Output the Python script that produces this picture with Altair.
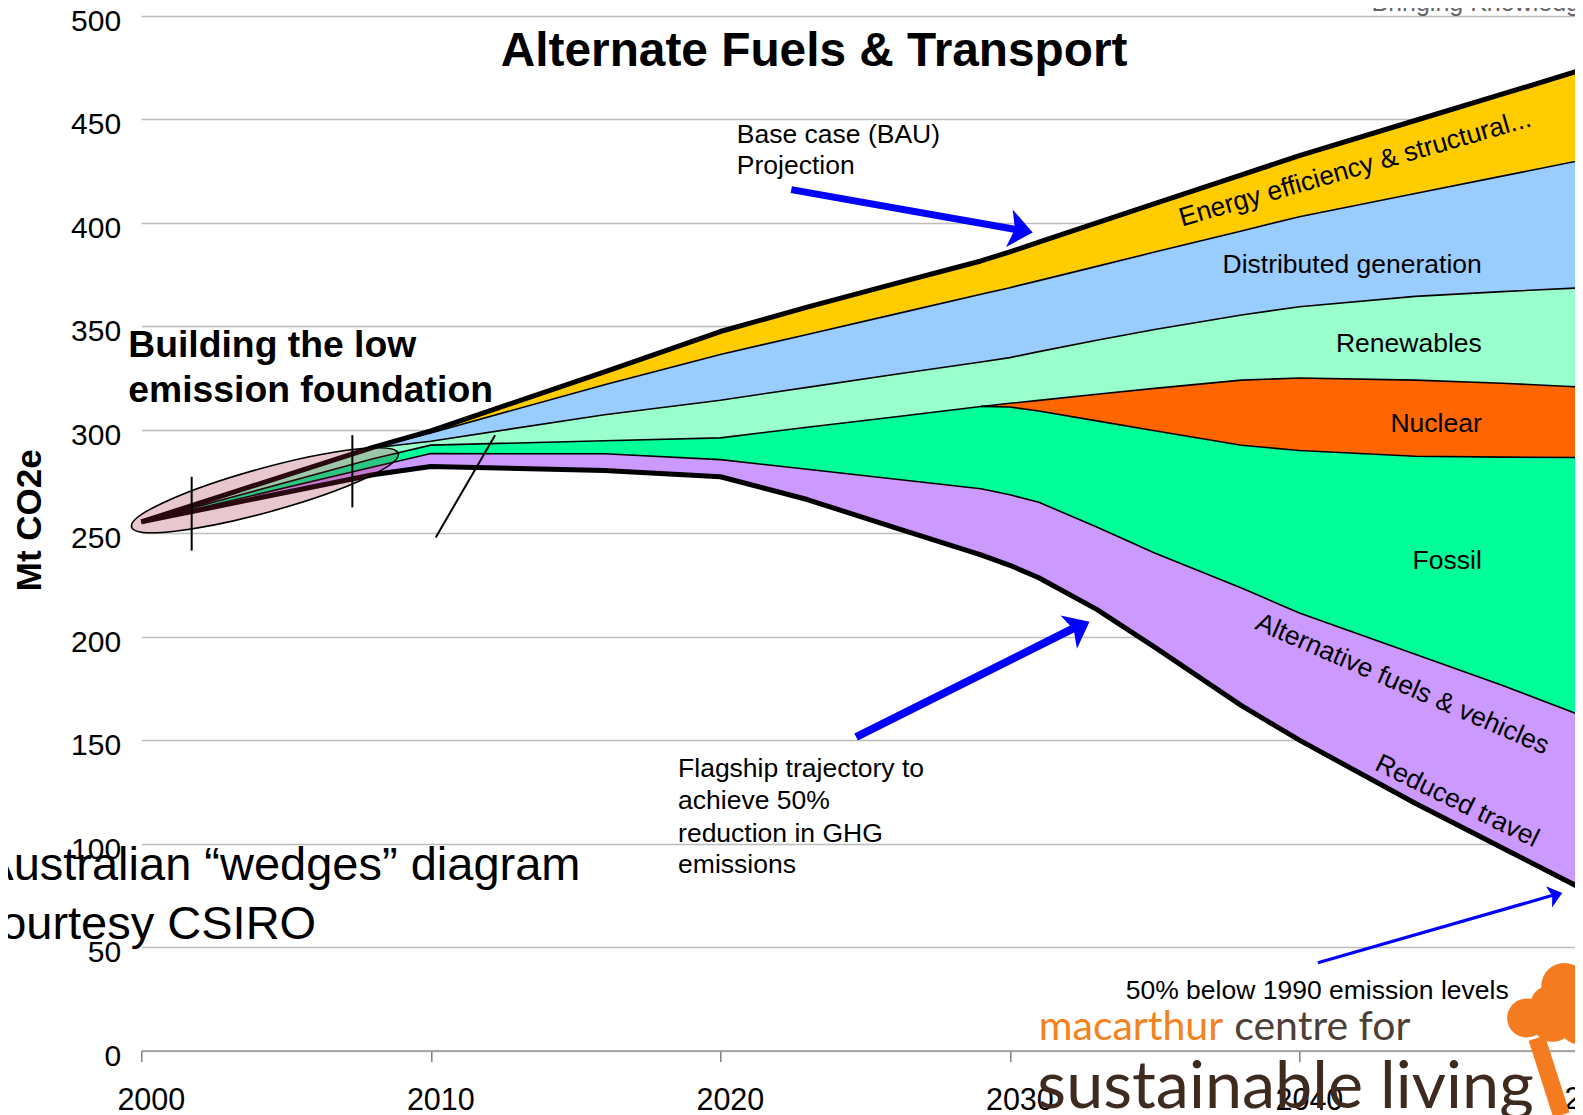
import altair as alt
import pandas as pd

# ---------------- data ----------------
years = [2000, 2008, 2010, 2016, 2020, 2023, 2026, 2029, 2030, 2031, 2033, 2035, 2038, 2040, 2044, 2047, 2050]
bau      = [255.5, 291.5, 299.5, 328.0, 347.5, 359.3, 370.5, 381.6, 386.0, 390.7, 400.0, 409.3, 423.2, 432.5, 449.5, 462.2, 475.0]
ee_low   = [255.5, 291.5, 298.5, 321.8, 336.4, 346.1, 355.8, 365.5, 368.7, 372.1, 379.0, 385.9, 396.1, 403.0, 414.2, 422.6, 431.0]
dg_low   = [255.5, 291.2, 294.5, 307.3, 314.3, 320.5, 326.7, 332.8, 334.9, 337.8, 343.3, 348.5, 355.5, 359.5, 364.5, 366.8, 368.8]
ren_low  = [255.5, 286.0, 292.6, 294.7, 296.1, 301.2, 306.2, 311.3, 312.8, 314.2, 317.2, 320.0, 324.0, 325.0, 324.0, 322.5, 320.5]
nuc_low  = [255.5, 286.0, 292.6, 294.7, 296.1, 301.2, 306.2, 311.3, 311.0, 309.1, 304.3, 299.5, 292.5, 290.0, 287.2, 286.8, 286.6]
fos_low  = [255.5, 282.0, 288.5, 288.4, 285.6, 280.9, 276.2, 271.5, 268.6, 265.0, 253.0, 240.5, 223.5, 211.5, 191.5, 176.5, 160.5]
flagship = [255.5, 278.3, 282.3, 280.3, 277.3, 266.3, 252.8, 239.5, 234.5, 228.5, 213.2, 195.0, 166.7, 150.0, 119.5, 98.0, 76.5]

band_names = ["Energy efficiency & structural", "Distributed generation", "Renewables",
              "Nuclear", "Fossil", "Alternative fuels & vehicles / Reduced travel"]
band_colors = ["#FFCC00", "#99CCFF", "#99FFCC", "#FF6600", "#00FF99", "#CC99FF"]
band_upper = [bau, ee_low, dg_low, ren_low, nuc_low, fos_low]
band_lower = [ee_low, dg_low, ren_low, nuc_low, fos_low, flagship]

y_ticks = [0, 50, 100, 150, 200, 250, 300, 350, 400, 450, 500]
x_ticks = [2000, 2010, 2020, 2030, 2040]

FONT = "Liberation Sans"

# ---------------- scales / axes ----------------
x_scale = alt.Scale(domain=[2000, 2049.52], nice=False, zero=False)
y_scale = alt.Scale(domain=[0, 500], nice=False, zero=False)
x_axis = alt.Axis(values=x_ticks, format="d", grid=False, domain=True, domainColor="#a6a6a6",
                  domainWidth=2, ticks=True, tickColor="#7f7f7f", tickWidth=1.5, tickSize=11,
                  labelFontSize=30.5, labelFont=FONT, labelColor="black", labelPadding=23.6,
                  labelOffset=9.5, labelFlush=False, labelOverlap=False, title=None)
y_axis = alt.Axis(values=y_ticks, grid=True, gridColor="#bdbdbd", gridWidth=1.5, domain=False,
                  ticks=False, tickSize=0, labelFontSize=30, labelFont=FONT, labelColor="black",
                  labelPadding=20.7, labelOffset=5.5, labelBaseline="middle", labelFlush=False,
                  labelOverlap=False, title=None)


def X(field="year"):
    return alt.X(f"{field}:Q", scale=x_scale, axis=x_axis)


def Y(field="v"):
    return alt.Y(f"{field}:Q", scale=y_scale, axis=y_axis, stack=None)


# ---------------- wedges ----------------
band_rows = []
for name, up, lo in zip(band_names, band_upper, band_lower):
    for yr, a, b in zip(years, up, lo):
        band_rows.append({"year": yr, "band": name, "v": a, "v2": b})
areas = alt.Chart(pd.DataFrame(band_rows)).mark_area(opacity=1, interpolate="linear").encode(
    x=X(), y=Y(), y2="v2:Q",
    color=alt.Color("band:N", scale=alt.Scale(domain=band_names, range=band_colors), legend=None),
)

thin_rows = []
for name, series in [("ee", ee_low), ("dg", dg_low), ("ren", ren_low), ("nuc", nuc_low), ("fos", fos_low)]:
    for yr, val in zip(years, series):
        if name == "nuc" and yr < 2029:
            continue
        thin_rows.append({"year": yr, "boundary": name, "v": val})
thin_lines = alt.Chart(pd.DataFrame(thin_rows)).mark_line(color="black", strokeWidth=1.6).encode(
    x=X(), y=Y(), detail="boundary:N")

thick_rows = []
for name, series in [("bau", bau), ("flagship", flagship)]:
    for yr, val in zip(years, series):
        thick_rows.append({"year": yr, "boundary": name, "v": val})
thick_lines = alt.Chart(pd.DataFrame(thick_rows)).mark_line(
    color="black", strokeWidth=5, strokeJoin="round").encode(x=X(), y=Y(), detail="boundary:N")

# ---------------- foundation ellipse + markers ----------------
ELLIPSE = ("M-1,0 C-1,-0.0878 -0.5523,-0.159 0,-0.159 C0.5523,-0.159 1,-0.0878 1,0 "
           "C1,0.0878 0.5523,0.159 0,0.159 C-0.5523,0.159 -1,0.0878 -1,0 Z")
ellipse = alt.Chart(pd.DataFrame({"year": [2004.27], "v": [270.8]})).mark_point(
    shape=ELLIPSE, filled=True, fill="#a3203a", fillOpacity=0.25, stroke="black",
    strokeWidth=1.6, strokeOpacity=1, opacity=1, size=76507, angle=344.6).encode(x=X(), y=Y())

marker_rules = pd.DataFrame({"year": [2001.74, 2007.29, 2010.17], "v": [241.6, 262.5, 248.0],
                             "year2": [2001.74, 2007.29, 2012.22], "v2": [277.3, 297.4, 297.4]})
markers = alt.Chart(marker_rules).mark_rule(color="black", strokeWidth=2).encode(
    x=X(), y=Y(), x2="year2:Q", y2="v2:Q")

# ---------------- arrows ----------------
HEAD = "M0,0 L-1.25,-1 L-0.95,0 L-1.25,1 Z"
arrows = pd.DataFrame({"year": [2022.45, 2024.69, 2040.64], "v": [416.1, 151.5, 42.4],
                       "year2": [2030.5, 2032.45, 2048.9], "v2": [396.1, 205.8, 75.6],
                       "tipx": [2030.79, 2032.75, 2049.08], "tipv": [395.4, 207.2, 76.1],
                       "w": [7, 8, 3.2], "head": [1444, 1369, 484], "angle": [10.05, 333.7, 344.1]})
shafts = alt.Chart(arrows).mark_rule(color="#0000FF").encode(
    x=X(), y=Y(), x2="year2:Q", y2="v2:Q", strokeWidth=alt.StrokeWidth("w:Q", scale=None))
heads = alt.Chart(arrows).mark_point(shape=HEAD, filled=True, color="#0000FF", opacity=1).encode(
    x=X("tipx"), y=Y("tipv"), size=alt.Size("head:Q", scale=None),
    angle=alt.Angle("angle:Q", scale=None))


# ---------------- text ----------------
def text_layer(rows, **mark):
    df = pd.DataFrame(rows)
    enc = dict(x=X(), y=Y(), text="text:N")
    if "angle" in df.columns:
        enc["angle"] = alt.Angle("angle:Q", scale=None)
    return alt.Chart(df).mark_text(baseline="alphabetic", **mark).encode(**enc)


title = text_layer([{"year": 2023.24, "v": 476.0, "text": "Alternate Fuels & Transport"}],
                   font=FONT, fontSize=47.8, fontWeight="bold", align="center", color="black")

building = text_layer([{"year": 1999.55, "v": 335.0, "text": "Building the low"},
                       {"year": 1999.55, "v": 313.4, "text": "emission foundation"}],
                      font=FONT, fontSize=37.3, fontWeight="bold", align="left", color="black")

notes_left = text_layer([
    {"year": 2020.57, "v": 438.5, "text": "Base case (BAU)"},
    {"year": 2020.57, "v": 423.4, "text": "Projection"},
    {"year": 2018.54, "v": 132.3, "text": "Flagship trajectory to"},
    {"year": 2018.54, "v": 116.8, "text": "achieve 50%"},
    {"year": 2018.54, "v": 101.0, "text": "reduction in GHG"},
    {"year": 2018.54, "v": 85.6, "text": "emissions"},
    {"year": 2034.0, "v": 24.7, "text": "50% below 1990 emission levels"},
], font=FONT, fontSize=26.5, align="left", color="black")

band_labels = text_layer([
    {"year": 2046.3, "v": 375.6, "text": "Distributed generation"},
    {"year": 2046.3, "v": 337.6, "text": "Renewables"},
    {"year": 2046.3, "v": 298.8, "text": "Nuclear"},
    {"year": 2046.3, "v": 232.8, "text": "Fossil"},
], font=FONT, fontSize=26.5, align="right", color="black")

slanted = text_layer([
    {"year": 2042.0, "v": 422.6, "text": "Energy efficiency & structural...", "angle": 344},
    {"year": 2043.45, "v": 173.4, "text": "Alternative fuels & vehicles", "angle": 23.5},
    {"year": 2045.33, "v": 117.0, "text": "Reduced travel", "angle": 26},
], font=FONT, fontSize=26.5, align="center", color="black")

courtesy = text_layer([
    {"year": 2015.17, "v": 82.2, "text": "Australian \u201cwedges\u201d diagram"},
    {"year": 2006.04, "v": 54.0, "text": "Courtesy CSIRO"},
], font=FONT, fontSize=47, align="right", color="black")

y_title = text_layer([{"year": 1996.55, "v": 256.3, "text": "Mt CO2e", "angle": 270}],
                     font=FONT, fontSize=35, fontWeight="bold", align="center", color="black")

x_last = text_layer([{"year": 2050.33, "v": -28.4, "text": "2050"}],
                    font=FONT, fontSize=30.5, align="center", color="black")

bringing = text_layer([{"year": 2042.49, "v": 502.4, "text": "Bringing Knowledge"}],
                      font=FONT, fontSize=25, align="left", color="#666666")

# ---------------- logo ----------------
logo_orange = text_layer([{"year": 2031.0, "v": 5.07, "text": "macarthur"}],
                         font="Lato", fontSize=41, align="left", color="#F58220")
logo_brown = text_layer([{"year": 2037.75, "v": 5.07, "text": "centre for"}],
                        font="Lato", fontSize=41, align="left", color="#4D4038")
logo_big = text_layer([{"year": 2030.95, "v": -27.8, "text": "sustainable living"}],
                      font="Lato", fontSize=66.5, align="left", color="#3E2A1F")

tree_crown = pd.DataFrame({"year": [2049.15, 2048.6, 2047.85, 2048.75, 2049.65, 2049.9],
                           "v": [31.2, 22.5, 15.7, 14.5, 12.5, 30.0],
                           "s": [2120, 1260, 1520, 1810, 1520, 1520]})
crown = alt.Chart(tree_crown).mark_point(shape="circle", filled=True, color="#F47B20", opacity=1).encode(
    x=X(), y=Y(), size=alt.Size("s:Q", scale=None))
trunk = alt.Chart(pd.DataFrame({"year": [2048.2], "v": [6.0], "year2": [2049.05], "v2": [-31.2]})).mark_rule(
    color="#F47B20", strokeWidth=17).encode(x=X(), y=Y(), x2="year2:Q", y2="v2:Q")

chart = alt.layer(
    areas, thin_lines, thick_lines, ellipse, markers, shafts, heads,
    title, building, notes_left, band_labels, slanted, courtesy, y_title, x_last, bringing,
    logo_orange, logo_brown, logo_big, crown, trunk,
).properties(
    width=1433.7, height=1034.5,
    autosize=alt.AutoSizeParams(type="none"),
    padding={"left": 133.3, "top": 8, "right": 0, "bottom": 64.5},
    background="white",
).configure_view(strokeWidth=0)

chart.save("out.html", embed_options={"renderer": "svg", "actions": False})
